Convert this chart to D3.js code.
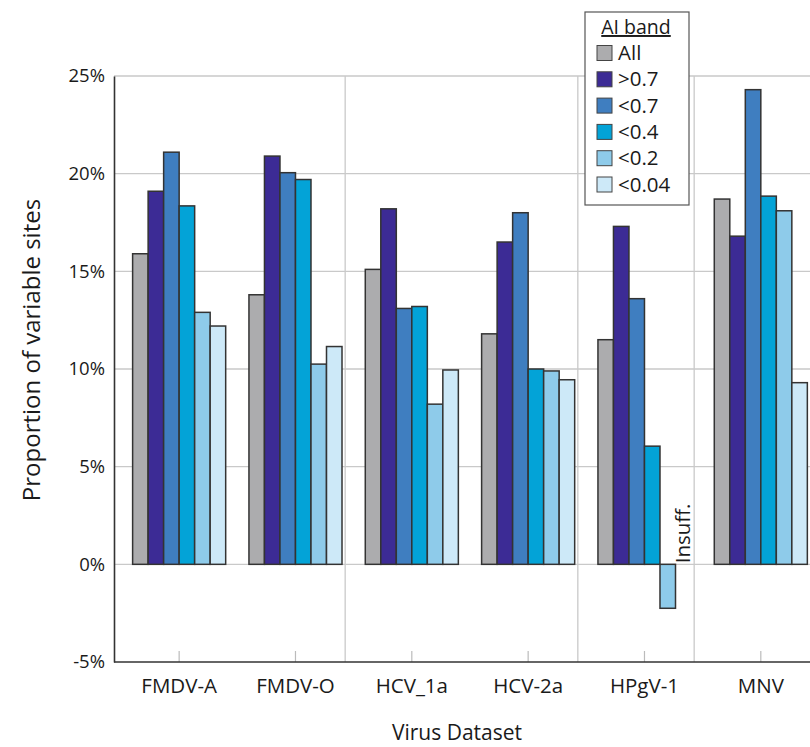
<!DOCTYPE html>
<html>
<head>
<meta charset="utf-8">
<script src="https://cdn.jsdelivr.net/npm/d3@7"></script>
<style>
  body { margin: 0; background: #fff; }
  svg { font-family: "Open Sans", sans-serif; }
</style>
</head>
<body>
<svg width="810" height="747"></svg>
<script>
// virus datasets (x categories) and AI bands (series)
var categories = ["FMDV-A", "FMDV-O", "HCV_1a", "HCV-2a", "HPgV-1", "MNV"];
var bands = ["All", ">0.7", "<0.7", "<0.4", "<0.2", "<0.04"];
// first dataset of each new virus family, gets a full-height divider
var familyStarts = ["HCV_1a", "HPgV-1", "MNV"];

// proportion of variable sites, in %
var allSites = [15.9, 13.8, 15.1, 11.8, 11.5, 18.7];
var above07 = [19.1, 20.9, 18.2, 16.5, 17.3, 16.8];
var below07 = [21.1, 20.05, 13.1, 18.0, 13.6, 24.3];
var below04 = [18.35, 19.7, 13.2, 10.0, 6.05, 18.85];
var below02 = [12.9, 10.25, 8.2, 9.9, -2.25, 18.1];
var below004 = [12.2, 11.15, 9.95, 9.45, null, 9.3]; // HPgV-1: insufficient data

var yTicks = [-5, 0, 5, 10, 15, 20, 25];

var seriesValues = [allSites, above07, below07, below04, below02, below004];
var colors = ["#acacae", "#3c2b95", "#3f7ec0", "#03a3d7", "#8ecbea", "#cde9f8"];

var svg = d3.select("svg"),
    plotLeft = 114, plotRight = 812, plotTop = 76, plotBottom = 662;

var xSlot = d3.scaleBand().domain(categories).range([plotLeft, plotRight]).padding(0);
var x = d3.scaleBand().domain(categories).range([plotLeft, plotRight])
    .paddingInner(0.2).paddingOuter(0.1).align(0.8);
var x1 = d3.scaleBand().domain(bands).range([0, x.bandwidth()]);
var y = d3.scaleLinear().domain([-5, 25]).range([plotBottom, plotTop]);
var color = d3.scaleOrdinal().domain(bands).range(colors);

// horizontal gridlines
svg.append("g").selectAll("line")
  .data(yTicks.filter(function (d) { return d > -5; }))
  .enter().append("line")
    .attr("x1", plotLeft).attr("x2", plotRight)
    .attr("y1", function (d) { return y(d); })
    .attr("y2", function (d) { return y(d); })
    .attr("stroke", "#c9c9c9").attr("stroke-width", 1.3);

// family dividers
svg.append("g").selectAll("line")
  .data(familyStarts)
  .enter().append("line")
    .attr("x1", function (d) { return xSlot(d) - 1.5; })
    .attr("x2", function (d) { return xSlot(d) - 1.5; })
    .attr("y1", plotTop).attr("y2", plotBottom)
    .attr("stroke", "#c9c9c9").attr("stroke-width", 1.3);

// small ticks at each dataset
svg.append("g").selectAll("line")
  .data(categories)
  .enter().append("line")
    .attr("x1", function (d) { return x(d) + x.bandwidth() / 2; })
    .attr("x2", function (d) { return x(d) + x.bandwidth() / 2; })
    .attr("y1", plotBottom - 11).attr("y2", plotBottom)
    .attr("stroke", "#bbb").attr("stroke-width", 1.2);

// bars
var rows = [];
categories.forEach(function (c, i) {
  bands.forEach(function (b, j) {
    rows.push({ cat: c, band: b, value: seriesValues[j][i] });
  });
});

svg.append("g").selectAll("rect")
  .data(rows.filter(function (d) { return d.value != null; }))
  .enter().append("rect")
    .attr("x", function (d) { return x(d.cat) + x1(d.band); })
    .attr("width", x1.bandwidth())
    .attr("y", function (d) { return y(Math.max(0, d.value)); })
    .attr("height", function (d) { return Math.abs(y(d.value) - y(0)); })
    .attr("fill", function (d) { return color(d.band); })
    .attr("stroke", "#333").attr("stroke-width", 1.5);

// "Insuff." marker where no value
rows.filter(function (d) { return d.value == null; }).forEach(function (d) {
  var cx = x(d.cat) + x1(d.band) + x1.bandwidth() / 2;
  svg.append("text")
    .attr("transform", "translate(" + cx + "," + (y(0) - 1) + ") rotate(-90)")
    .attr("dy", "0.35em")
    .attr("font-size", 20.5)
    .attr("fill", "#1a1a1a")
    .text("Insuff.");
});

// axes
var yAxis = svg.append("g")
    .attr("transform", "translate(" + plotLeft + ",0)")
    .call(d3.axisLeft(y).tickValues(yTicks).tickSize(0).tickPadding(9)
      .tickFormat(function (d) { return d + "%"; }));
yAxis.select(".domain").attr("stroke", "#333").attr("stroke-width", 1.6);
yAxis.selectAll("text").attr("font-size", 18.5).attr("fill", "#1a1a1a")
    .attr("font-family", "Open Sans, sans-serif");

var xAxis = svg.append("g")
    .attr("transform", "translate(0," + plotBottom + ")")
    .call(d3.axisBottom(x).tickSize(0).tickPadding(16));
xAxis.select(".domain").attr("stroke", "#333").attr("stroke-width", 1.6)
    .attr("d", "M" + plotLeft + ",0H" + plotRight);
xAxis.selectAll("text").attr("font-size", 20.5).attr("fill", "#1a1a1a")
    .attr("font-family", "Open Sans, sans-serif");

// axis titles
svg.append("text")
    .attr("transform", "translate(40," + ((plotTop + plotBottom) / 2 - 19) + ") rotate(-90)")
    .attr("text-anchor", "middle")
    .attr("font-size", 24).attr("fill", "#1a1a1a")
    .text("Proportion of variable sites");

svg.append("text")
    .attr("x", 457).attr("y", 740)
    .attr("text-anchor", "middle")
    .attr("font-size", 21).attr("fill", "#1a1a1a")
    .text("Virus Dataset");

// legend
var legend = svg.append("g").attr("transform", "translate(585,12)");
legend.append("rect")
    .attr("width", 104).attr("height", 193)
    .attr("fill", "#fff").attr("stroke", "#555").attr("stroke-width", 1.2);
legend.append("text")
    .attr("x", 51).attr("y", 22)
    .attr("text-anchor", "middle")
    .attr("font-size", 19.5).attr("fill", "#1a1a1a")
    .attr("text-decoration", "underline")
    .text("AI band");

var item = legend.selectAll("g.item")
  .data(bands)
  .enter().append("g")
    .attr("class", "item")
    .attr("transform", function (d, i) { return "translate(12," + (41 + i * 26.3) + ")"; });
item.append("rect")
    .attr("width", 15).attr("height", 15).attr("y", -7.5)
    .attr("fill", function (d) { return color(d); })
    .attr("stroke", "#444").attr("stroke-width", 1);
item.append("text")
    .attr("x", 21).attr("dy", "0.35em")
    .attr("font-size", 20.5).attr("fill", "#1a1a1a")
    .text(function (d) { return d; });
</script>
</body>
</html>
